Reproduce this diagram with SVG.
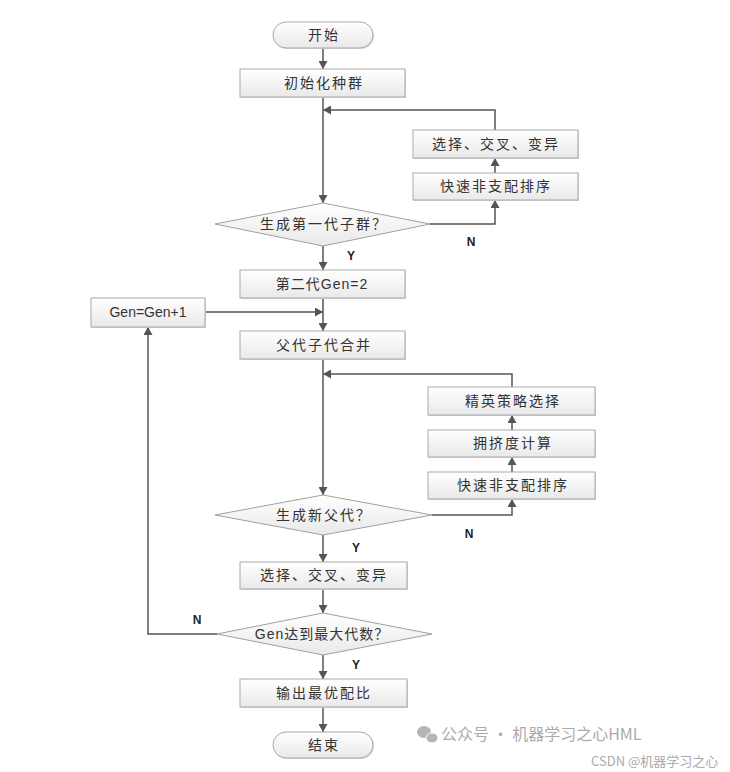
<svg xmlns="http://www.w3.org/2000/svg" width="730" height="772" viewBox="0 0 730 772">
<defs>
<linearGradient id="g" x1="0" y1="0" x2="0" y2="1">
<stop offset="0" stop-color="#ffffff"/>
<stop offset="1" stop-color="#e9e9e9"/>
</linearGradient>
<marker id="ah" markerUnits="userSpaceOnUse" markerWidth="9" markerHeight="9" refX="8" refY="4.5" orient="auto">
<path d="M0,0 L8,4.5 L0,9 z" fill="#555"/>
</marker>
</defs>
<style>
.box{fill:url(#g);stroke:#a9a9a9;stroke-width:1}
.sh{fill:#d6d6d6;stroke:none}
.dia{fill:url(#g);stroke:#a0a0a0;stroke-width:1}
.t{font-family:"Noto Sans CJK SC","Liberation Sans",sans-serif;font-size:14px;fill:#333;text-anchor:middle;letter-spacing:2px}
.m{font-family:"Liberation Sans","Noto Sans CJK SC",sans-serif;font-size:14px;fill:#333;text-anchor:middle;letter-spacing:1px}
.lb{font-family:"Liberation Sans",Arial,sans-serif;font-size:12px;font-weight:bold;fill:#222;text-anchor:middle}
.c{fill:none;stroke:#555;stroke-width:1.5}
.wm{font-family:"Noto Sans CJK SC","Liberation Sans",sans-serif;fill:#ababab}
</style>
<rect width="730" height="772" fill="#ffffff"/>

<g id="connectors">
<path class="c" d="M323,48 V69" marker-end="url(#ah)"/>
<path class="c" d="M323,97 V203" marker-end="url(#ah)"/>
<path class="c" d="M430,224 H495 V200" marker-end="url(#ah)"/>
<path class="c" d="M495,173 V158" marker-end="url(#ah)"/>
<path class="c" d="M495,130 V110 H323" marker-end="url(#ah)"/>
<path class="c" d="M323,246 V270" marker-end="url(#ah)"/>
<path class="c" d="M323,298 V331" marker-end="url(#ah)"/>
<path class="c" d="M206,312 H323" marker-end="url(#ah)"/>
<path class="c" d="M323,359 V495" marker-end="url(#ah)"/>
<path class="c" d="M432,515 H512 V499" marker-end="url(#ah)"/>
<path class="c" d="M512,472 V457" marker-end="url(#ah)"/>
<path class="c" d="M512,430 V415" marker-end="url(#ah)"/>
<path class="c" d="M512,387 V374 H323" marker-end="url(#ah)"/>
<path class="c" d="M323,535 V562" marker-end="url(#ah)"/>
<path class="c" d="M323,589 V613" marker-end="url(#ah)"/>
<path class="c" d="M217,634 H148 V327" marker-end="url(#ah)"/>
<path class="c" d="M323,655 V679" marker-end="url(#ah)"/>
<path class="c" d="M323,707 V732" marker-end="url(#ah)"/>
<text class="lb" x="471" y="246">N</text>
<text class="lb" x="351" y="260">Y</text>
<text class="lb" x="469" y="538">N</text>
<text class="lb" x="356" y="552">Y</text>
<text class="lb" x="197" y="624">N</text>
<text class="lb" x="356" y="669">Y</text>
</g>

<g id="start">
<rect x="274" y="23" width="100" height="26" rx="13" class="sh"/>
<rect x="273" y="22" width="100" height="26" rx="13" class="box"/>
<text class="t" x="324" y="40">开始</text>
</g>

<g id="init">
<rect x="241" y="70" width="165" height="28" class="sh"/>
<rect x="240" y="69" width="165" height="28" class="box"/>
<text class="t" x="324" y="88">初始化种群</text>
</g>

<g id="sel1">
<rect x="414" y="131" width="165" height="28" class="sh"/>
<rect x="413" y="130" width="165" height="28" class="box"/>
<text class="t" x="496" y="149">选择、交叉、变异</text>
</g>

<g id="sort1">
<rect x="414" y="174" width="165" height="27" class="sh"/>
<rect x="413" y="173" width="165" height="27" class="box"/>
<text class="t" x="496" y="191">快速非支配排序</text>
</g>

<g id="dec1">
<polygon class="dia" points="323,203 430,224 323,246 215,224"/>
<text class="t" x="324" y="229">生成第一代子群？</text>
</g>

<g id="gen2">
<rect x="241" y="271" width="165" height="28" class="sh"/>
<rect x="240" y="270" width="165" height="28" class="box"/>
<text class="m" x="322" y="289">第二代Gen=2</text>
</g>

<g id="geninc">
<rect x="92" y="299" width="114" height="29" class="sh"/>
<rect x="91" y="298" width="114" height="29" class="box"/>
<text class="m" x="148" y="317" style="letter-spacing:0">Gen=Gen+1</text>
</g>

<g id="merge">
<rect x="241" y="332" width="165" height="28" class="sh"/>
<rect x="240" y="331" width="165" height="28" class="box"/>
<text class="t" x="324" y="350">父代子代合并</text>
</g>

<g id="elite">
<rect x="429" y="388" width="167" height="28" class="sh"/>
<rect x="428" y="387" width="167" height="28" class="box"/>
<text class="t" x="513" y="406">精英策略选择</text>
</g>

<g id="crowd">
<rect x="429" y="431" width="167" height="27" class="sh"/>
<rect x="428" y="430" width="167" height="27" class="box"/>
<text class="t" x="513" y="448">拥挤度计算</text>
</g>

<g id="sort2">
<rect x="429" y="473" width="167" height="27" class="sh"/>
<rect x="428" y="472" width="167" height="27" class="box"/>
<text class="t" x="513" y="490">快速非支配排序</text>
</g>

<g id="dec2">
<polygon class="dia" points="323,495 432,515 323,535 215,515"/>
<text class="t" x="324" y="520">生成新父代？</text>
</g>

<g id="sel2">
<rect x="241" y="563" width="167" height="27" class="sh"/>
<rect x="240" y="562" width="167" height="27" class="box"/>
<text class="t" x="324" y="580">选择、交叉、变异</text>
</g>

<g id="dec3">
<polygon class="dia" points="323,613 432,634 323,655 217,634"/>
<text class="m" x="322" y="639">Gen达到最大代数？</text>
</g>

<g id="output">
<rect x="241" y="680" width="167" height="28" class="sh"/>
<rect x="240" y="679" width="167" height="28" class="box"/>
<text class="t" x="324" y="698">输出最优配比</text>
</g>

<g id="end">
<rect x="274" y="733" width="100" height="26" rx="13" class="sh"/>
<rect x="273" y="732" width="100" height="26" rx="13" class="box"/>
<text class="t" x="324" y="750">结束</text>
</g>

<g id="watermark">
<ellipse cx="424" cy="732" rx="7" ry="6" fill="#b5b5b5"/>
<ellipse cx="432" cy="738" rx="6" ry="5" fill="#b5b5b5" stroke="#fff" stroke-width="1"/>
<text class="wm" x="441" y="740" font-size="16">公众号 · 机器学习之心HML</text>
<text class="wm" x="591" y="766" font-size="13" fill="#bbbbbb">CSDN @机器学习之心</text>
</g>
</svg>
